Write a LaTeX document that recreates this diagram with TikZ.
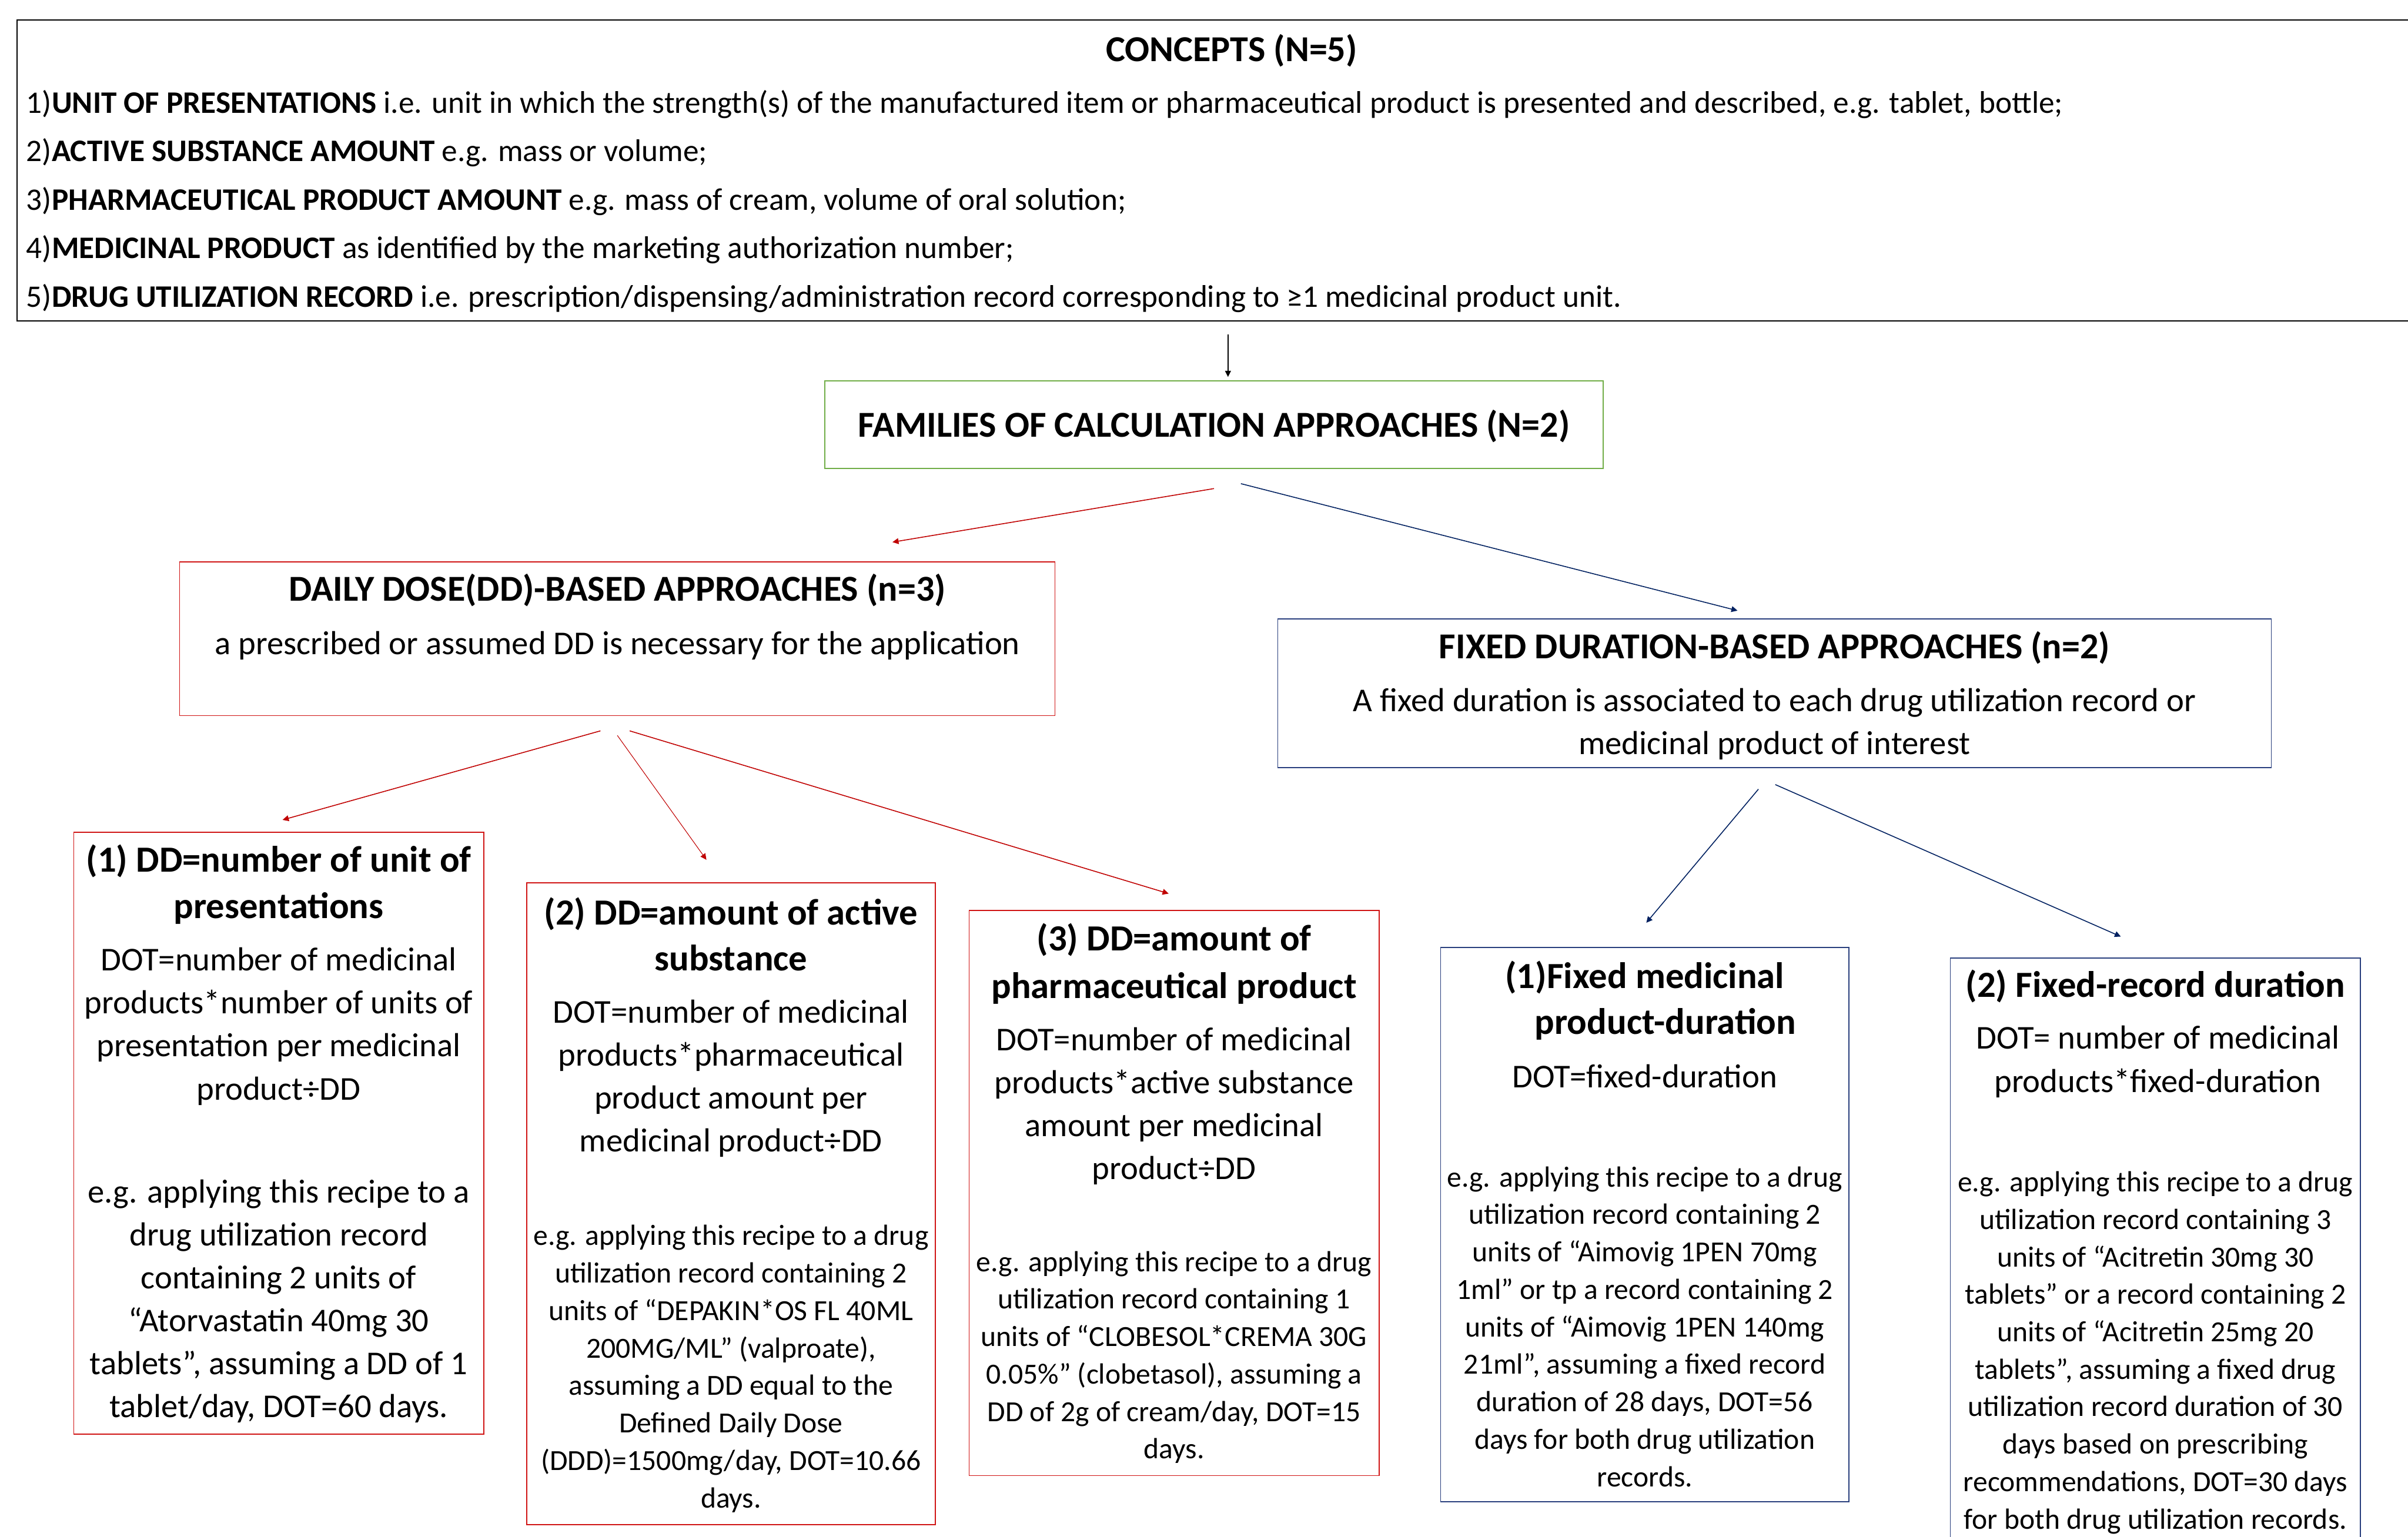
\documentclass[tikz,border=0pt]{standalone}
\usepackage{fontspec}
\setmainfont{Carlito}
\usetikzlibrary{arrows.meta}
\definecolor{boxred}{RGB}{208,20,20}
\definecolor{arrred}{RGB}{192,0,0}
\definecolor{boxnavy}{RGB}{40,62,125}
\definecolor{arrnavy}{RGB}{0,32,96}
\definecolor{boxgreen}{RGB}{112,173,71}
\tikzset{
  box/.style={draw, line width=0.6pt, inner sep=0pt, fill=none},
  redbox/.style={box, draw=boxred},
  navybox/.style={box, draw=boxnavy},
  greenbox/.style={box, draw=boxgreen, line width=0.7pt},
  blackbox/.style={box, draw=black, line width=0.7pt},
  txt/.style={inner sep=0pt, align=center, text=black},
  ttl/.style={txt, font=\bfseries\fontsize{24pt}{30pt}\selectfont},
  bigttl/.style={txt, font=\bfseries\fontsize{23.8pt}{30pt}\selectfont},
  body/.style={txt, font=\fontsize{21.7pt}{28pt}\selectfont},
  smalltxt/.style={txt, font=\fontsize{19pt}{24.4pt}\selectfont},
  arr/.style={line width=0.6pt, -{Triangle[length=4pt,width=3.8pt]}},
}
\begin{document}
\begin{tikzpicture}[x=1pt,y=-1pt]
\fill[white] (0,0) rectangle (1568,1001);
\useasboundingbox (0,0) rectangle (1568,1001);

% boxes
\node[blackbox, minimum width=1589pt, minimum height=196pt] (concepts) at (805.5,111) {};
\node[greenbox, minimum width=507pt, minimum height=57pt] (families) at (790.5,276.5) {};
\node[redbox, minimum width=570pt, minimum height=100pt] (dd) at (402,416) {};
\node[navybox, minimum width=647pt, minimum height=97pt] (fixed) at (1155.5,451.5) {};
\node[redbox, minimum width=267pt, minimum height=392pt] (m1) at (181.5,738) {};
\node[redbox, minimum width=266pt, minimum height=418pt] (m2) at (476,784) {};
\node[redbox, minimum width=267pt, minimum height=368pt] (m3) at (764.5,777) {};
\node[navybox, minimum width=266pt, minimum height=361pt] (m4) at (1071,797.5) {};
\node[navybox, minimum width=267pt, minimum height=388pt] (m5) at (1403.5,818) {};

% concepts text
\node[bigttl] (ctitle) at (802,33) {CONCEPTS (N=5)};
\node[txt, align=left, anchor=west, font=\fontsize{20.4pt}{31.6pt}\selectfont] (clist) at (17,131)
{1)\textbf{UNIT OF PRESENTATIONS} i.e. unit in which the strength(s) of the manufactured item or pharmaceutical product is presented and described, e.g. tablet, bottle;\\
2)\textbf{ACTIVE SUBSTANCE AMOUNT} e.g. mass or volume;\\
3)\textbf{PHARMACEUTICAL PRODUCT AMOUNT} e.g. mass of cream, volume of oral solution;\\
4)\textbf{MEDICINAL PRODUCT} as identified by the marketing authorization number;\\
5)\textbf{DRUG UTILIZATION RECORD} i.e. prescription/dispensing/administration record corresponding to ≥1 medicinal product unit.};

% families
\node[bigttl] (ftitle) at (790.5,277.5) {FAMILIES OF CALCULATION APPROACHES (N=2)};

% DD box
\node[bigttl] (ddtitle) at (402,384.5) {DAILY DOSE(DD)-BASED APPROACHES (n=3)};
\node[body] (ddsub) at (402,420.5) {a prescribed or assumed DD is necessary for the application};

% fixed box
\node[bigttl] (fxtitle) at (1155.5,422) {FIXED DURATION-BASED APPROACHES (n=2)};
\node[body] (fxsub) at (1155.5,471.5) {A fixed duration is associated to each drug utilization record or\\medicinal product of interest};

% method 1
\node[ttl] (t1) at (181.5,576) {(1) DD=number of unit of\\presentations};
\node[body] (d1) at (181.5,668.5) {DOT=number of medicinal\\products*number of units of\\presentation per medicinal\\product÷DD};
\node[body] (e1) at (181.5,847.5) {e.g. applying this recipe to a\\drug utilization record\\containing 2 units of\\“Atorvastatin 40mg 30\\tablets”, assuming a DD of 1\\tablet/day, DOT=60 days.};

% method 2
\node[ttl] (t2) at (476,608.5) {(2) DD=amount of active\\substance};
\node[body] (d2) at (476,702.5) {DOT=number of medicinal\\products*pharmaceutical\\product amount per\\medicinal product÷DD};
\node[smalltxt] (e2) at (476,891.5) {e.g. applying this recipe to a drug\\utilization record containing 2\\units of “DEPAKIN*OS FL 40ML\\200MG/ML” (valproate),\\assuming a DD equal to the\\Defined Daily Dose\\(DDD)=1500mg/day, DOT=10.66\\days.};

% method 3
\node[ttl, font=\bfseries\fontsize{24pt}{31pt}\selectfont] (t3) at (764.5,627.5) {(3) DD=amount of\\pharmaceutical product};
\node[body] (d3) at (764.5,720.5) {DOT=number of medicinal\\products*active substance\\amount per medicinal\\product÷DD};
\node[smalltxt] (e3) at (764.5,884) {e.g. applying this recipe to a drug\\utilization record containing 1\\units of “CLOBESOL*CREMA 30G\\0.05\%” (clobetasol), assuming a\\DD of 2g of cream/day, DOT=15\\days.};

% method 4
\node[ttl] (t4) at (1071,651.5) {(1)Fixed medicinal\\\hspace*{27pt}product-duration};
\node[body] (d4) at (1071,701) {DOT=fixed-duration};
\node[smalltxt] (e4) at (1071,864) {e.g. applying this recipe to a drug\\utilization record containing 2\\units of “Aimovig 1PEN 70mg\\1ml” or tp a record containing 2\\units of “Aimovig 1PEN 140mg\\21ml”, assuming a fixed record\\duration of 28 days, DOT=56\\days for both drug utilization\\records.};

% method 5
\node[ttl] (t5) at (1403.5,642.5) {(2) Fixed-record duration};
\node[body] (d5) at (1405,691.5) {DOT= number of medicinal\\products*fixed-duration};
\node[smalltxt] (e5) at (1403.5,881) {e.g. applying this recipe to a drug\\utilization record containing 3\\units of “Acitretin 30mg 30\\tablets” or a record containing 2\\units of “Acitretin 25mg 20\\tablets”, assuming a fixed drug\\utilization record duration of 30\\days based on prescribing\\recommendations, DOT=30 days\\for both drug utilization records.};

% connector end points
\coordinate (c0) at (799.6,218);
\coordinate (c1) at (799.6,245.5);
\coordinate (r0) at (790.5,318.2);
\coordinate (r1) at (581.1,353.1);
\coordinate (b0) at (808,315);
\coordinate (b1) at (1131.4,397.7);
\coordinate (ra0) at (391,476);
\coordinate (ra1) at (184,534);
\coordinate (rb0) at (402,479);
\coordinate (rb1) at (460,560);
\coordinate (rc0) at (410,476);
\coordinate (rc1) at (761,582);
\coordinate (ba0) at (1145,514);
\coordinate (ba1) at (1072,601);
\coordinate (bb0) at (1156,511);
\coordinate (bb1) at (1381,610);

% connectors
\draw[arr, black] (c0) -- (c1);
\draw[arr, arrred] (r0) -- (r1);
\draw[arr, arrnavy] (b0) -- (b1);
\draw[arr, arrred] (ra0) -- (ra1);
\draw[arr, arrred, line width=0.4pt] (rb0) -- (rb1);
\draw[arr, arrred] (rc0) -- (rc1);
\draw[arr, arrnavy] (ba0) -- (ba1);
\draw[arr, arrnavy] (bb0) -- (bb1);
\end{tikzpicture}
\end{document}
